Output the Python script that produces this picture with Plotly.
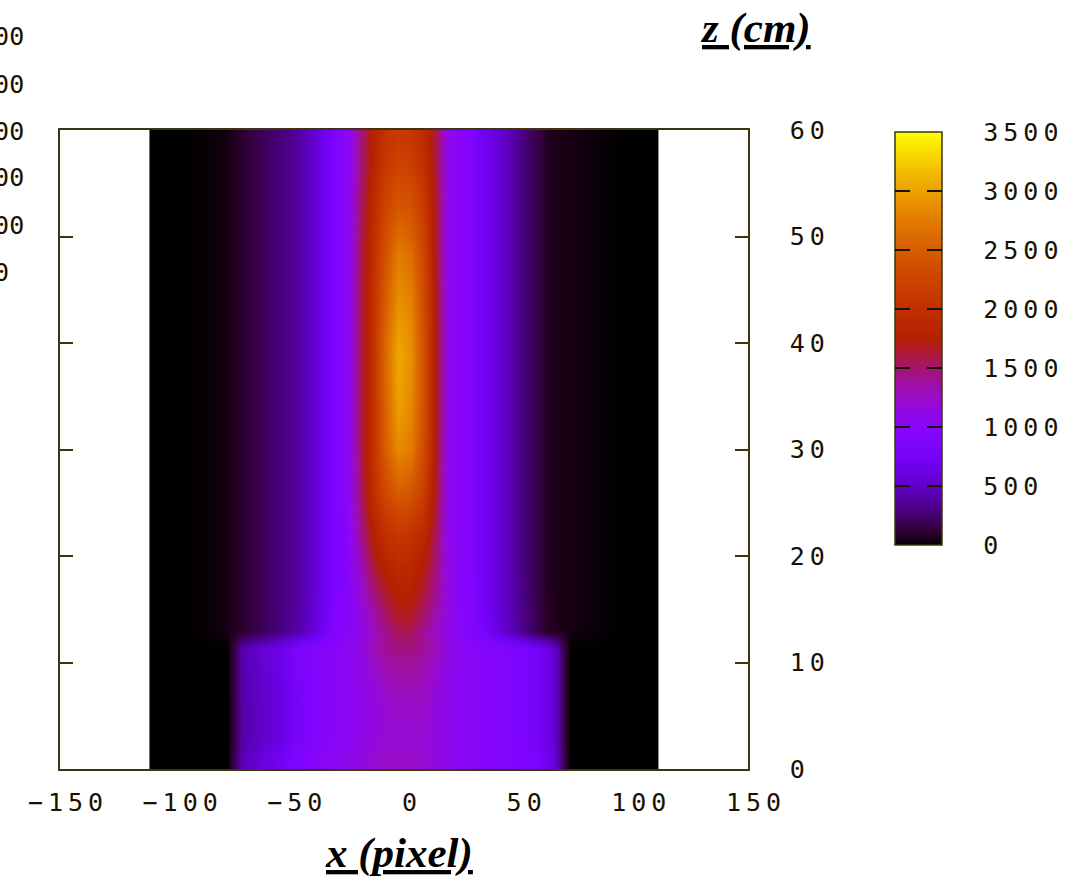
import numpy as np
import plotly.graph_objects as go

W, H = 1081, 884

# Measured intensity grid: column centres in pixels, row centres in cm
X_PIX = [-108, -95, -85, -76, -71, -65, -55, -45, -37, -30, -24, -19, -14, -8, -3,
         3, 8, 14, 19, 24, 30, 37, 45, 55, 63, 67, 71, 80, 95, 108]
Z_CM = [0.5, 3, 6, 9, 11.7, 12.5, 15, 18, 22, 26, 30, 34, 39, 44, 48, 53, 57, 59.5]
X_EXTENT = (-111, 111)
Z_EXTENT = (0, 60)

INTENSITY = [
    [0, 0, 0, 0, 450, 550, 700, 900, 1000, 1050, 1100, 1150, 1200, 1250, 1250,
     1250, 1200, 1150, 1100, 1050, 1000, 950, 900, 850, 700, 450, 0, 0, 0, 0],
    [0, 0, 0, 0, 400, 480, 580, 800, 950, 1000, 1050, 1100, 1150, 1200, 1200,
     1200, 1200, 1150, 1100, 1050, 1000, 950, 900, 800, 650, 420, 0, 0, 0, 0],
    [0, 0, 0, 0, 400, 480, 580, 800, 950, 1000, 1050, 1100, 1150, 1200, 1250,
     1250, 1250, 1150, 1100, 1050, 1000, 950, 900, 800, 650, 420, 0, 0, 0, 0],
    [0, 0, 0, 0, 420, 500, 620, 820, 950, 1000, 1050, 1100, 1200, 1300, 1350,
     1350, 1300, 1200, 1100, 1050, 1000, 950, 900, 800, 650, 420, 0, 0, 0, 0],
    [0, 0, 0, 0, 420, 520, 650, 850, 950, 1000, 1050, 1150, 1300, 1400, 1450,
     1450, 1400, 1300, 1150, 1050, 1000, 950, 900, 800, 650, 420, 0, 0, 0, 0],
    [0, 0, 15, 45, 100, 170, 280, 420, 650, 900, 1000, 1100, 1250, 1400, 1550,
     1550, 1400, 1250, 1100, 1000, 900, 700, 480, 250, 80, 60, 45, 25, 0, 0],
    [0, 0, 15, 45, 100, 170, 270, 400, 620, 880, 1000, 1150, 1350, 1550, 1700,
     1700, 1550, 1350, 1150, 1000, 880, 680, 460, 240, 75, 55, 45, 25, 0, 0],
    [0, 0, 15, 45, 100, 170, 270, 400, 600, 850, 1000, 1250, 1550, 1750, 1850,
     1850, 1700, 1450, 1150, 1000, 850, 650, 450, 230, 70, 55, 45, 25, 0, 0],
    [0, 0, 15, 45, 100, 170, 270, 400, 600, 850, 1000, 1400, 1750, 2000, 2100,
     2050, 1900, 1550, 1100, 1000, 850, 650, 450, 230, 70, 55, 45, 25, 0, 0],
    [0, 0, 15, 45, 100, 170, 270, 400, 600, 850, 1050, 1500, 1950, 2300, 2500,
     2450, 2200, 1650, 1100, 1000, 850, 650, 450, 230, 70, 55, 45, 25, 0, 0],
    [0, 0, 15, 45, 100, 170, 270, 400, 600, 850, 1050, 1550, 2000, 2500, 2850,
     2750, 2350, 1700, 1100, 1000, 850, 650, 450, 230, 70, 55, 45, 25, 0, 0],
    [0, 0, 15, 45, 100, 170, 270, 400, 600, 850, 1050, 1550, 2000, 2550, 3000,
     2850, 2400, 1700, 1100, 1000, 850, 650, 450, 230, 70, 55, 45, 25, 0, 0],
    [0, 0, 15, 45, 100, 170, 270, 400, 600, 850, 1050, 1550, 2000, 2600, 3050,
     2900, 2400, 1700, 1100, 1000, 850, 650, 450, 230, 70, 55, 45, 25, 0, 0],
    [0, 0, 15, 45, 100, 170, 270, 400, 600, 850, 1050, 1550, 2000, 2500, 2900,
     2800, 2350, 1700, 1100, 1000, 850, 650, 450, 230, 70, 55, 45, 25, 0, 0],
    [0, 0, 15, 45, 100, 170, 270, 400, 600, 850, 1050, 1550, 1950, 2400, 2750,
     2650, 2300, 1650, 1100, 1000, 850, 650, 450, 230, 70, 55, 45, 25, 0, 0],
    [0, 0, 15, 45, 100, 170, 270, 400, 600, 850, 1050, 1500, 1900, 2250, 2450,
     2400, 2150, 1650, 1100, 1000, 850, 650, 450, 230, 70, 55, 45, 25, 0, 0],
    [0, 0, 15, 45, 100, 170, 270, 400, 600, 850, 1050, 1450, 1800, 2100, 2250,
     2200, 2000, 1600, 1100, 1000, 850, 650, 450, 230, 70, 55, 45, 25, 0, 0],
    [0, 0, 15, 45, 100, 170, 270, 400, 600, 850, 1050, 1450, 1800, 2050, 2150,
     2100, 1950, 1600, 1100, 1000, 850, 650, 450, 230, 70, 55, 45, 25, 0, 0],
]

X_TICKS = [-150, -100, -50, 0, 50, 100, 150]
Z_TICKS = [0, 10, 20, 30, 40, 50, 60]
CB_TICKS = [0, 500, 1000, 1500, 2000, 2500, 3000, 3500]
CB_RANGE = (0, 3500)
SIDE_LABELS = ["3000", "2500", "2000", "1500", "1000", "500"]

# pixel layout
PLOT_L, PLOT_R, PLOT_T, PLOT_B = 60, 748, 130, 769
CB_L, CB_R, CB_T, CB_B = 895, 942, 132, 545
DASH = 15
FRAME = "#3d3512"
INK = "#1a1200"
TICK_FONT = dict(family="DejaVu Sans Mono", size=25, color=INK)
CLEAR = [[0, "rgba(0,0,0,0)"], [1, "rgba(0,0,0,0)"]]


def edges(centres, lo, hi):
    c = np.asarray(centres, dtype=float)
    mids = (c[:-1] + c[1:]) / 2
    return np.concatenate([[lo], mids, [hi]])


def bar_geometry(left, width):
    return dict(x=left / W, xanchor="left", y=1 - CB_B / H, yanchor="bottom",
                len=(CB_B - CB_T) / H, lenmode="fraction",
                thickness=width, thicknessmode="pixels", xpad=0, ypad=0)


# gnuplot default palette (rgbformulae 7,5,15)
t = np.linspace(0, 1, 51)
r = np.sqrt(t)
g = t ** 3
b = np.clip(np.sin(2 * np.pi * t), 0, 1)
colorscale = [[float(tt), f"rgb({int(round(rr*255))},{int(round(gg*255))},{int(round(bb*255))})"]
              for tt, rr, gg, bb in zip(t, r, g, b)]

fig = go.Figure()
fig.add_trace(go.Heatmap(
    x=edges(X_PIX, *X_EXTENT), y=edges(Z_CM, *Z_EXTENT), z=INTENSITY,
    colorscale=colorscale, zmin=CB_RANGE[0], zmax=CB_RANGE[1], zsmooth="best",
    hoverinfo="skip",
    colorbar=dict(
        **bar_geometry(CB_L, CB_R - CB_L),
        outlinewidth=1.5, outlinecolor=FRAME,
        tickvals=CB_TICKS, ticks="outside", ticklen=36,
        tickcolor="rgba(0,0,0,0)", tickfont=TICK_FONT,
    ),
))

# short tick dashes on the left and right inner edges of the colour box
for left, width in [(CB_L, DASH), (CB_L, CB_R - CB_L)]:
    fig.add_trace(go.Scatter(
        x=[None], y=[None], mode="markers", hoverinfo="skip", showlegend=False,
        marker=dict(color=[CB_RANGE[0]], cmin=CB_RANGE[0], cmax=CB_RANGE[1],
                    colorscale=CLEAR, showscale=True,
                    colorbar=dict(**bar_geometry(left, width), outlinewidth=0,
                                  tickvals=CB_TICKS[1:-1], ticks="inside",
                                  ticklen=DASH, tickwidth=2, tickcolor=INK,
                                  showticklabels=False)),
    ))

fig.update_layout(
    width=W, height=H, margin=dict(l=0, r=0, t=0, b=0, autoexpand=False),
    paper_bgcolor="white", plot_bgcolor="white", showlegend=False,
    xaxis=dict(domain=[PLOT_L / W, PLOT_R / W], range=[-150, 150],
               tickvals=X_TICKS, ticks="", showgrid=False, zeroline=False,
               showline=True, mirror=True, linecolor=FRAME, linewidth=1.5,
               tickfont=TICK_FONT, ticklabelshift=8, ticklabelstandoff=10,
               automargin=False),
    yaxis=dict(domain=[1 - PLOT_B / H, 1 - PLOT_T / H], range=[0, 60],
               side="right", tickvals=Z_TICKS, ticks="inside", ticklen=13,
               tickwidth=1.5, tickcolor=FRAME, mirror="ticks",
               showline=True, linecolor=FRAME, linewidth=1.5,
               showgrid=False, zeroline=False, tickfont=TICK_FONT,
               ticklabelstandoff=35, automargin=False),
)

title_font = dict(family="Liberation Serif", size=43, color="black")
fig.add_annotation(text="<b><i><u>z (cm)</u></i></b>", xref="paper", yref="paper",
                   x=755 / W, y=1 - 28 / H, xanchor="center", yanchor="middle",
                   showarrow=False, font=title_font)
fig.add_annotation(text="<b><i><u>x (pixel)</u></i></b>", xref="paper", yref="paper",
                   x=399 / W, y=1 - 853 / H, xanchor="center", yanchor="middle",
                   showarrow=False, font=title_font)

# labels of a neighbouring scale, running off the left edge
for i, lab in enumerate(SIDE_LABELS):
    fig.add_annotation(text=lab, xref="paper", yref="paper",
                       x=-38 / W, y=1 - (37 + 47 * i) / H, xanchor="left",
                       yanchor="middle", showarrow=False,
                       font=dict(family="DejaVu Sans Mono", size=25, color=INK))

letter_spacing = """
var st = document.createElement('style');
st.textContent = 'g[class$="tick"] > text {letter-spacing: 5px;}';
document.head.appendChild(st);
"""
fig.write_html("out.html", post_script=letter_spacing)
